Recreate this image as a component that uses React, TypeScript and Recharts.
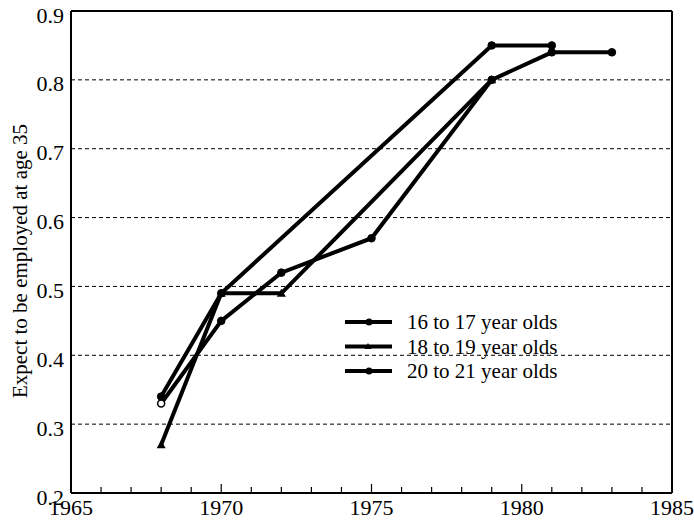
import React from 'react';
import { LineChart, Line, XAxis, YAxis, CartesianGrid, ReferenceLine, Legend } from 'recharts';

const SERIF = '"Liberation Serif", "Times New Roman", serif';

const seriesNames = ['16 to 17 year olds', '18 to 19 year olds', '20 to 21 year olds'];

const years16 = [1968, 1970, 1979, 1981];
const values16 = [0.34, 0.49, 0.85, 0.85];

const years18 = [1968, 1970, 1972, 1979];
const values18 = [0.27, 0.49, 0.49, 0.8];

const years20 = [1968, 1970, 1972, 1975, 1979, 1981, 1983];
const values20 = [0.33, 0.45, 0.52, 0.57, 0.8, 0.84, 0.84];

const xTicks = Array.from({ length: 21 }, (_, i) => 1965 + i);
const yTicks = [0.2, 0.3, 0.4, 0.5, 0.6, 0.7, 0.8, 0.9];

const toRows = (years: number[], values: number[]) =>
  years.map((year, i) => ({ year, value: values[i] }));

const data16 = toRows(years16, values16);
const data18 = toRows(years18, values18);
const data20 = toRows(years20, values20);

const XTick = ({ x, y, payload }: any) => {
  const v = payload.value;
  const major = v % 5 === 0;
  return (
    <g>
      {v !== 1965 && v !== 1985 && (
        <line x1={x} x2={x} y1={y} y2={y - (major ? 9 : 6)} stroke="#000" strokeWidth={1.2} />
      )}
      {major && (
        <text x={x} y={y + 22} textAnchor="middle" fontSize={22} fontFamily={SERIF} fill="#000">
          {v}
        </text>
      )}
    </g>
  );
};

const YTick = ({ y, payload }: any) => (
  <text x={64} y={y + 11.5} textAnchor="end" fontSize={22} fontFamily={SERIF} fill="#000">
    {payload.value.toFixed(1)}
  </text>
);

const YTitle = () => (
  <text
    transform="translate(20,261) rotate(-90)"
    textAnchor="middle"
    dominantBaseline="central"
    fontSize={21}
    fontFamily={SERIF}
    fill="#000"
  >
    Expect to be employed at age 35
  </text>
);

const CircleDot = ({ cx, cy, index, hollowFirst }: any) => {
  if (cx == null || cy == null) return null;
  const hollow = hollowFirst && index === 0;
  return (
    <circle
      key={`c-${index}`}
      cx={cx}
      cy={cy}
      r={hollow ? 3.5 : 3.8}
      fill={hollow ? '#fff' : '#000'}
      stroke="#000"
      strokeWidth={hollow ? 1.5 : 1}
    />
  );
};

const TriangleDot = ({ cx, cy, index }: any) => {
  if (cx == null || cy == null) return null;
  return (
    <path
      key={`t-${index}`}
      d={`M${cx},${cy - 4.5} L${cx + 4.5},${cy + 3.5} L${cx - 4.5},${cy + 3.5} Z`}
      fill="#000"
    />
  );
};

const LegendBox = () => (
  <svg width={250} height={76} style={{ display: 'block' }}>
    {seriesNames.map((name, i) => {
      const cy = 12 + i * 24.5;
      return (
        <g key={name}>
          <line x1={5} x2={52} y1={cy} y2={cy} stroke="#000" strokeWidth={4} />
          {i === 1 ? (
            <path d={`M28,${cy - 3.5} L31.5,${cy + 2.5} L24.5,${cy + 2.5} Z`} fill="#000" />
          ) : (
            <circle cx={29} cy={cy} r={3.5} fill="#000" />
          )}
          <text x={67} y={cy + 7} fontSize={21} fontFamily={SERIF} fill="#000">
            {name}
          </text>
        </g>
      );
    })}
  </svg>
);

export default function App() {
  return (
    <div style={{ position: 'absolute', left: 0, top: 0, width: 694, height: 526, background: '#fff' }}>
      <LineChart width={694} height={526} margin={{ top: 11, right: 22, bottom: 0, left: 0 }}>
        <CartesianGrid vertical={false} stroke="#000" strokeWidth={1} strokeDasharray="4 3" />
        <XAxis
          dataKey="year"
          type="number"
          domain={[1965, 1985]}
          ticks={xTicks}
          interval={0}
          height={33}
          tickSize={0}
          tickMargin={0}
          tickLine={false}
          axisLine={{ stroke: '#000', strokeWidth: 2 }}
          tick={<XTick />}
          allowDuplicatedCategory={false}
        />
        <YAxis
          type="number"
          domain={[0.2, 0.9]}
          ticks={yTicks}
          interval={0}
          width={71}
          tickSize={0}
          tickMargin={0}
          tickLine={false}
          axisLine={{ stroke: '#000', strokeWidth: 2 }}
          tick={<YTick />}
          label={<YTitle />}
        />
        <ReferenceLine y={0.9} stroke="#000" strokeWidth={2} />
        <ReferenceLine x={1985} stroke="#000" strokeWidth={2} />
        <Line
          data={data16}
          dataKey="value"
          name={seriesNames[0]}
          stroke="#000"
          strokeWidth={4}
          dot={(p: any) => <CircleDot {...p} />}
          activeDot={false}
          isAnimationActive={false}
        />
        <Line
          data={data18}
          dataKey="value"
          name={seriesNames[1]}
          stroke="#000"
          strokeWidth={4}
          dot={(p: any) => <TriangleDot {...p} />}
          activeDot={false}
          isAnimationActive={false}
        />
        <Line
          data={data20}
          dataKey="value"
          name={seriesNames[2]}
          stroke="#000"
          strokeWidth={4}
          dot={(p: any) => <CircleDot {...p} hollowFirst />}
          activeDot={false}
          isAnimationActive={false}
        />
        <Legend
          layout="vertical"
          align="center"
          verticalAlign="middle"
          content={<LegendBox />}
          wrapperStyle={{ position: 'absolute', left: 340, top: 310, width: 250, height: 76 }}
        />
      </LineChart>
    </div>
  );
}
